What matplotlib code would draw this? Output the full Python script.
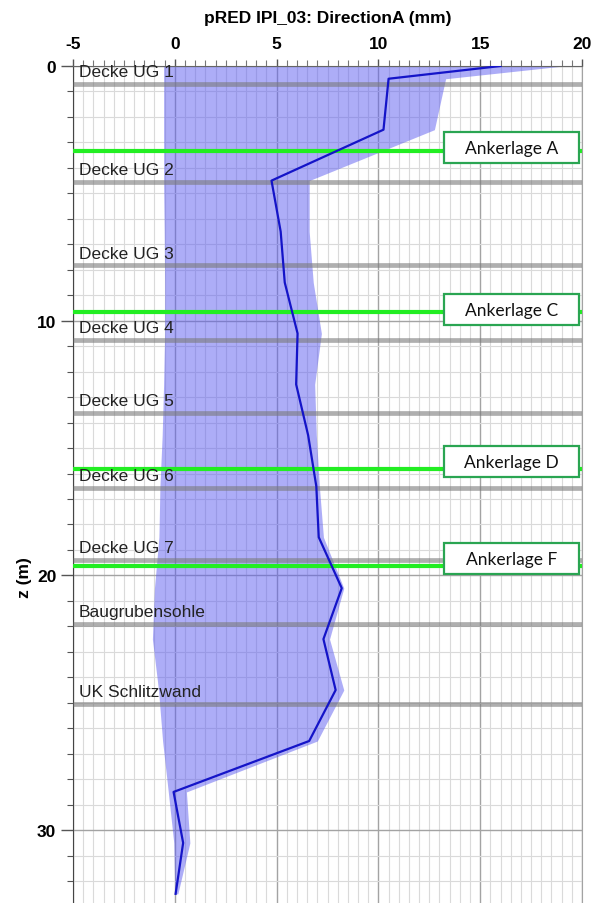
import numpy as np
import matplotlib
matplotlib.use("Agg")
import matplotlib.pyplot as plt
from matplotlib.patches import Rectangle
from matplotlib.ticker import MultipleLocator

plt.rcParams['axes.unicode_minus'] = False

# ---- data ----
depth = [0, 0.5, 2.5, 4.5, 6.5, 8.5, 10.5, 12.5, 14.5, 16.5, 18.5, 20.5,
         22.5, 24.5, 26.5, 28.5, 30.5, 32.5]
disp = [16.0, 10.5, 10.25, 4.75, 5.2, 5.4, 6.03, 5.96, 6.55, 6.95, 7.07, 8.2,
        7.3, 7.9, 6.6, -0.06, 0.41, 0.04]
band_lo = [-0.55, -0.55, -0.55, -0.55, -0.52, -0.5, -0.5, -0.55, -0.62, -0.73,
           -0.78, -1.0, -1.1, -0.8, -0.6, -0.32, -0.05, 0.0]
band_hi = [19.1, 13.3, 12.75, 6.6, 6.6, 6.8, 7.2, 6.87, 6.95, 7.1, 7.3, 8.3,
           7.6, 8.3, 7.0, 0.57, 0.74, 0.15]

level_names = ["Decke UG 1", "Decke UG 2", "Decke UG 3", "Decke UG 4",
               "Decke UG 5", "Decke UG 6", "Decke UG 7", "Baugrubensohle",
               "UK Schlitzwand"]
level_z = [0.7, 4.55, 7.83, 10.75, 13.63, 16.55, 19.39, 21.9, 25.03]

anchor_names = ["Ankerlage A", "Ankerlage C", "Ankerlage D", "Ankerlage F"]
anchor_z = [3.35, 9.66, 15.83, 19.62]
anchor_box_z = [3.2, 9.56, 15.53, 19.34]

x_ticks = [-5, 0, 5, 10, 15, 20]
z_ticks = [0, 10, 20, 30]

# ---- figure ----
fig = plt.figure(figsize=(6.02, 9.04), dpi=100)
ax = fig.add_axes([73/602, 0.0, (582-73)/602, 1 - 67/904])
ax.set_xlim(-5, 20)
ax.set_ylim(32.86, 0)

# grid
ax.xaxis.set_major_locator(MultipleLocator(5))
ax.xaxis.set_minor_locator(MultipleLocator(0.5))
ax.yaxis.set_major_locator(MultipleLocator(10))
ax.yaxis.set_minor_locator(MultipleLocator(1))
ax.set_xticks(x_ticks)
ax.set_yticks(z_ticks)
ax.grid(which='minor', color='#dadada', lw=0.8)
ax.grid(which='major', color='#a3a3a3', lw=1.0)
ax.set_axisbelow(True)

# band and line
ax.fill_betweenx(depth, band_lo, band_hi, color='#5c5cf0', alpha=0.5, lw=0, zorder=2)
ax.plot(disp, depth, color='#1414c8', lw=1.6, zorder=5)

# levels
for name, z in zip(level_names, level_z):
    ax.plot([-5, 20], [z, z], color='#7a7a7a', alpha=0.6, lw=3.4,
            solid_capstyle='butt', zorder=3)
    ax.annotate(name, xy=(-5, z), xytext=(4, 3.5), textcoords='offset points',
                ha='left', va='bottom', fontsize=12.5, color='#222222',
                family='Liberation Sans', zorder=6)

# anchors
for name, z, bz in zip(anchor_names, anchor_z, anchor_box_z):
    ax.plot([-5, 20], [z, z], color='#22ee22', lw=3.0, solid_capstyle='butt', zorder=4)
    ax.add_patch(Rectangle((13.2, bz - 0.6), 6.65, 1.2, facecolor='white',
                           edgecolor='#2aa552', lw=1.6, zorder=7))
    ax.text(16.52, bz, name, ha='center', va='center', fontsize=12.5,
            family='Lato', color='#111111', zorder=8)

# axes styling
ax.xaxis.tick_top()
ax.xaxis.set_label_position('top')
ax.tick_params(axis='x', which='major', length=5, width=1, color='#555555',
               labelsize=12.5, pad=6)
ax.tick_params(axis='x', which='minor', length=4, width=0.8, color='#777777')
ax.tick_params(axis='y', which='major', length=9, width=1, color='#555555',
               labelsize=12.5, pad=3)
ax.tick_params(axis='y', which='minor', length=4.5, width=0.8, color='#555555')
for lab in ax.get_xticklabels() + ax.get_yticklabels():
    lab.set_family('Liberation Sans')
    lab.set_fontweight('bold')

ax.spines['bottom'].set_visible(False)
ax.spines['right'].set_color('#a3a3a3')
ax.spines['left'].set_color('#444444')
ax.spines['top'].set_color('#666666')

ax.set_title('pRED IPI_03: DirectionA (mm)', fontsize=12.5, fontweight='bold',
             family='Liberation Sans', pad=32)
ax.set_ylabel('z (m)', fontsize=12.5, fontweight='bold', family='Liberation Sans')
ax.yaxis.set_label_coords(-0.08, 0.39)

fig.savefig('out.png', dpi=100)
